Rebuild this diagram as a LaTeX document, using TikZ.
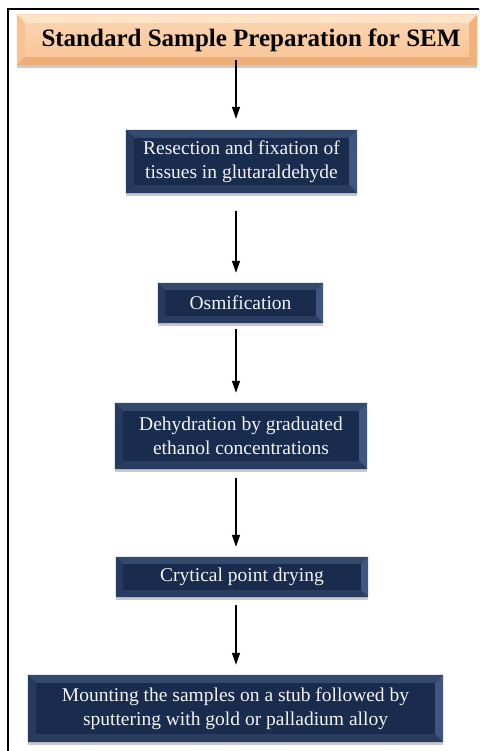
\documentclass[tikz,border=0pt]{standalone}
\usepackage{fontspec}
\setmainfont{Liberation Serif}
\usetikzlibrary{arrows.meta,shadows,calc}
\definecolor{navy}{HTML}{1A2C4D}
\definecolor{navytop}{HTML}{34496E}
\definecolor{navyleft}{HTML}{27395C}
\definecolor{navyright}{HTML}{3F5680}
\definecolor{navybot}{HTML}{2A3D60}
\definecolor{peach}{HTML}{F8C394}
\definecolor{peachlight}{HTML}{FBD6B3}
\definecolor{peachtop}{HTML}{FDE3C8}
\definecolor{peachleft}{HTML}{F6C193}
\definecolor{peachright}{HTML}{F2B27C}
\definecolor{peachbot}{HTML}{EDAE78}
\definecolor{txtwhite}{HTML}{F2F2F2}
\tikzset{
  stepbox/.style={rectangle, fill=navy, inner sep=0pt,
    drop shadow={opacity=0.35, shadow xshift=0pt, shadow yshift=-3pt, fill=black!60}},
  steptext/.style={text=txtwhite, align=center, inner sep=0pt, font=\fontsize{19.5}{24}\selectfont},
  titlebox/.style={rectangle, top color=peachlight, bottom color=peach, inner sep=0pt,
    drop shadow={opacity=0.35, shadow xshift=0pt, shadow yshift=-3pt, fill=black!60}},
  titletext/.style={text=black, inner sep=0pt, font=\fontsize{25}{28}\selectfont\bfseries},
  arr/.style={line width=1.4pt, -{Triangle[length=12pt,width=8pt]}, shorten <=6pt, shorten >=10pt},
  frame/.style={line width=2pt, draw=black}
}
% bevel: #1 node, #2 width, #3 top, #4 left, #5 right, #6 bottom
\newcommand\bevelit[6]{%
  \fill[#3] (#1.north west) -- (#1.north east) -- ([xshift=-#2,yshift=-#2]#1.north east) -- ([xshift=#2,yshift=-#2]#1.north west) -- cycle;
  \fill[#4] (#1.north west) -- ([xshift=#2,yshift=-#2]#1.north west) -- ([xshift=#2,yshift=#2]#1.south west) -- (#1.south west) -- cycle;
  \fill[#5] (#1.north east) -- ([xshift=-#2,yshift=-#2]#1.north east) -- ([xshift=-#2,yshift=#2]#1.south east) -- (#1.south east) -- cycle;
  \fill[#6] (#1.south west) -- ([xshift=#2,yshift=#2]#1.south west) -- ([xshift=-#2,yshift=#2]#1.south east) -- (#1.south east) -- cycle;
}
\begin{document}
\begin{tikzpicture}[x=1pt,y=-1pt]
\useasboundingbox (0,0) rectangle (479,751);
\clip (0,0) rectangle (479,751);
\fill[white] (0,0) rectangle (479,751);
\draw[frame] (8,9) rectangle (500,780);
\coordinate (ax) at (236,0);
% title
\node[titlebox, minimum width=460pt, minimum height=50pt] (title) at (247,40) {};
\bevelit{title}{8pt}{peachtop}{peachleft}{peachright}{peachbot}
\node[titletext] (tt) at ([xshift=4pt]title.center) {Standard Sample Preparation for SEM};
% step boxes
\node[stepbox, minimum width=231pt, minimum height=63pt] (b1) at (241.5,161.5) {};
\bevelit{b1}{8pt}{navytop}{navyleft}{navyright}{navybot}
\node[steptext] (t1) at (b1.center) {Resection and fixation of\\tissues in glutaraldehyde};
\node[stepbox, minimum width=165pt, minimum height=40pt] (b2) at (240.5,303) {};
\bevelit{b2}{7pt}{navytop}{navyleft}{navyright}{navybot}
\node[steptext] (t2) at (b2.center) {Osmification};
\node[stepbox, minimum width=252pt, minimum height=66pt] (b3) at (241,436) {};
\bevelit{b3}{8pt}{navytop}{navyleft}{navyright}{navybot}
\node[steptext] (t3) at (b3.center) {Dehydration by graduated\\ethanol concentrations};
\node[stepbox, minimum width=252pt, minimum height=40pt] (b4) at (242,577) {};
\bevelit{b4}{7pt}{navytop}{navyleft}{navyright}{navybot}
\node[steptext] (t4) at (b4.center) {Crytical point drying};
\node[stepbox, minimum width=415pt, minimum height=67pt] (b5) at (235.5,708.5) {};
\bevelit{b5}{8pt}{navytop}{navyleft}{navyright}{navybot}
\node[steptext] (t5) at (b5.center) {Mounting the samples on a stub followed by\\sputtering with gold or palladium alloy};
% arrows
\draw[arr, shorten <=-5pt, shorten >=11pt] (title.south -| ax) -- (b1.north -| ax);
\draw[arr, shorten <=18pt] (b1.south -| ax) -- (b2.north -| ax);
\draw[arr] (b2.south -| ax) -- (b3.north -| ax);
\draw[arr, shorten <=9pt] (b3.south -| ax) -- (b4.north -| ax);
\draw[arr, shorten <=8pt] (b4.south -| ax) -- (b5.north -| ax);
\end{tikzpicture}
\end{document}
